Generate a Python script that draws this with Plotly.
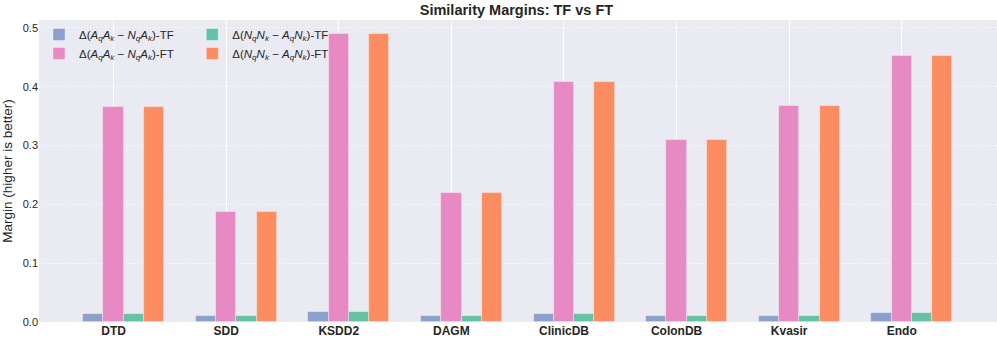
import plotly.graph_objects as go

categories = ["DTD", "SDD", "KSDD2", "DAGM", "ClinicDB", "ColonDB", "Kvasir", "Endo"]
aa_tf = [0.0136, 0.0102, 0.0175, 0.0107, 0.0140, 0.0107, 0.0107, 0.0145]
aa_ft = [0.365, 0.187, 0.490, 0.219, 0.408, 0.310, 0.368, 0.452]
nn_tf = [0.0136, 0.0102, 0.0175, 0.0107, 0.0140, 0.0107, 0.0110, 0.0145]
nn_ft = [0.365, 0.187, 0.490, 0.219, 0.408, 0.310, 0.368, 0.452]

names = [
    "Δ(<i>A<sub>q</sub>A<sub>k</sub></i> − <i>N<sub>q</sub>A<sub>k</sub></i>)-TF",
    "Δ(<i>A<sub>q</sub>A<sub>k</sub></i> − <i>N<sub>q</sub>A<sub>k</sub></i>)-FT",
    "Δ(<i>N<sub>q</sub>N<sub>k</sub></i> − <i>A<sub>q</sub>N<sub>k</sub></i>)-TF",
    "Δ(<i>N<sub>q</sub>N<sub>k</sub></i> − <i>A<sub>q</sub>N<sub>k</sub></i>)-FT",
]
colors = ["#8DA0CB", "#E78AC3", "#66C2A5", "#FC8D62"]
series = [aa_tf, aa_ft, nn_tf, nn_ft]
legends = ["legend", "legend", "legend2", "legend2"]

width = 0.18
idx = list(range(len(categories)))

fig = go.Figure()
for i, (vals, name, col, lg) in enumerate(zip(series, names, colors, legends)):
    fig.add_trace(
        go.Bar(
            x=[k + (i - 1) * width for k in idx],
            y=vals,
            width=width,
            name=name,
            legend=lg,
            marker=dict(color=col, line=dict(color="rgba(255,255,255,0.45)", width=0.8)),
            customdata=categories,
            hovertemplate="%{customdata}: %{y:.3f}<extra></extra>",
        )
    )

font = "Liberation Sans, Arial, sans-serif"
legend_style = dict(
    bgcolor="rgba(0,0,0,0)",
    font=dict(family=font, size=11.5, color="#262626"),
    y=1.0,
    yanchor="top",
    xanchor="left",
    itemwidth=30,
    tracegroupgap=0,
)

fig.update_layout(
    width=997,
    height=341,
    barmode="overlay",
    paper_bgcolor="white",
    plot_bgcolor="#EAEAF2",
    margin=dict(l=39, r=0, t=19.5, b=18.5),
    font=dict(family=font, color="#262626"),
    title=dict(
        text="<b>Similarity Margins: TF vs FT</b>",
        x=0.518,
        xanchor="center",
        y=0.972,
        yanchor="middle",
        font=dict(family=font, size=14.5, color="#262626"),
    ),
    legend=dict(x=0.0, **legend_style),
    legend2=dict(x=0.16, **legend_style),
    bargap=0,
)
fig.update_xaxes(
    range=[-0.6625, 7.846],
    tickvals=idx,
    ticktext=[f"<b>{c}</b>" for c in categories],
    tickfont=dict(family=font, size=12, color="#262626"),
    showgrid=True,
    gridcolor="white",
    gridwidth=1,
    zeroline=False,
    ticks="",
    showline=False,
)
fig.update_yaxes(
    range=[0, 0.5135],
    tickvals=[0, 0.1, 0.2, 0.3, 0.4, 0.5],
    tickformat=".1f",
    tickfont=dict(family=font, size=11, color="#262626"),
    title=dict(text="Margin (higher is better)", font=dict(family=font, size=13.5, color="#262626"), standoff=8),
    showgrid=True,
    gridcolor="white",
    gridwidth=1,
    griddash="1px,2px",
    zeroline=False,
    ticks="",
    showline=False,
)

fig.write_html(
    "out.html",
    config={"displayModeBar": False},
    post_script="document.body.style.margin='0';document.body.style.overflow='hidden';",
)
